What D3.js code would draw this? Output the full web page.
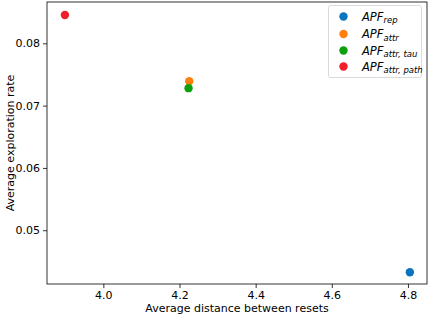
<!DOCTYPE html>
<html><head><meta charset="utf-8">
<script src="https://cdn.jsdelivr.net/npm/d3@7"></script>
<style>body{margin:0;background:#fff}svg{display:block}text{font-family:"DejaVu Sans",sans-serif}</style>
</head><body><svg id="c" width="429" height="318"></svg>
<script>
const seriesNames = ["rep", "attr", "attr, tau", "attr, path"];
const xValues = [4.805, 4.2255, 4.2237, 3.899];
const yValues = [0.04326, 0.0739, 0.0728, 0.08454];
const colors = ["#0a74c0", "#ff7f0e", "#0ca10c", "#f0202a"];
const xTicks = [4.0, 4.2, 4.4, 4.6, 4.8];
const yTicks = [0.05, 0.06, 0.07, 0.08];

const svg = d3.select("#c");
const L = 47, R = 427, T = 2, B = 284;
const x = d3.scaleLinear().domain([3.852, 4.85]).range([L, R]);
const y = d3.scaleLinear().domain([0.04137, 0.08663]).range([B, T]);

const xa = svg.append("g").attr("transform", `translate(0,${B})`)
  .call(d3.axisBottom(x).tickValues(xTicks).tickFormat(d3.format(".1f")).tickSize(4).tickPadding(3));
const ya = svg.append("g").attr("transform", `translate(${L},0)`)
  .call(d3.axisLeft(y).tickValues(yTicks).tickFormat(d3.format(".2f")).tickSize(4).tickPadding(3));
[xa, ya].forEach(a => {
  a.select(".domain").remove();
  a.selectAll("text").attr("font-size", 11).attr("fill", "#000").style("font-family", "DejaVu Sans");
  a.selectAll("line").attr("stroke", "#000").attr("stroke-width", 0.8);
});
svg.append("rect").attr("x", L).attr("y", T).attr("width", R - L).attr("height", B - T)
  .attr("fill", "none").attr("stroke", "#000").attr("stroke-width", 0.8);

svg.append("text").attr("x", (L + R) / 2).attr("y", 312).attr("text-anchor", "middle")
  .attr("font-size", 11).text("Average distance between resets");
svg.append("text").attr("transform", `translate(10,${(T + B) / 2}) rotate(-90)`)
  .attr("text-anchor", "middle").attr("dy", "0.35em").attr("font-size", 11).text("Average exploration rate");

svg.append("g").selectAll("circle").data(seriesNames).join("circle")
  .attr("cx", (d, i) => x(xValues[i])).attr("cy", (d, i) => y(yValues[i]))
  .attr("r", 4.2).attr("fill", (d, i) => colors[i]);

// legend
const lg = svg.append("g");
lg.append("rect").attr("x", 328.5).attr("y", 5.5).attr("width", 93).attr("height", 72).attr("rx", 2)
  .attr("fill", "#fff").attr("fill-opacity", 0.8).attr("stroke", "#d0d0d0").attr("stroke-width", 0.8);
const rows = [16.5, 34, 50.5, 66.5];
seriesNames.forEach((n, i) => {
  lg.append("circle").attr("cx", 343.5).attr("cy", rows[i]).attr("r", 4.2).attr("fill", colors[i]);
  const t = lg.append("text").attr("x", 362).attr("y", rows[i] + 4).attr("font-size", 11.5).attr("font-style", "italic");
  t.append("tspan").text("APF");
  t.append("tspan").attr("font-size", 8.5).attr("dy", 2.5).text(n);
});
</script></body></html>
